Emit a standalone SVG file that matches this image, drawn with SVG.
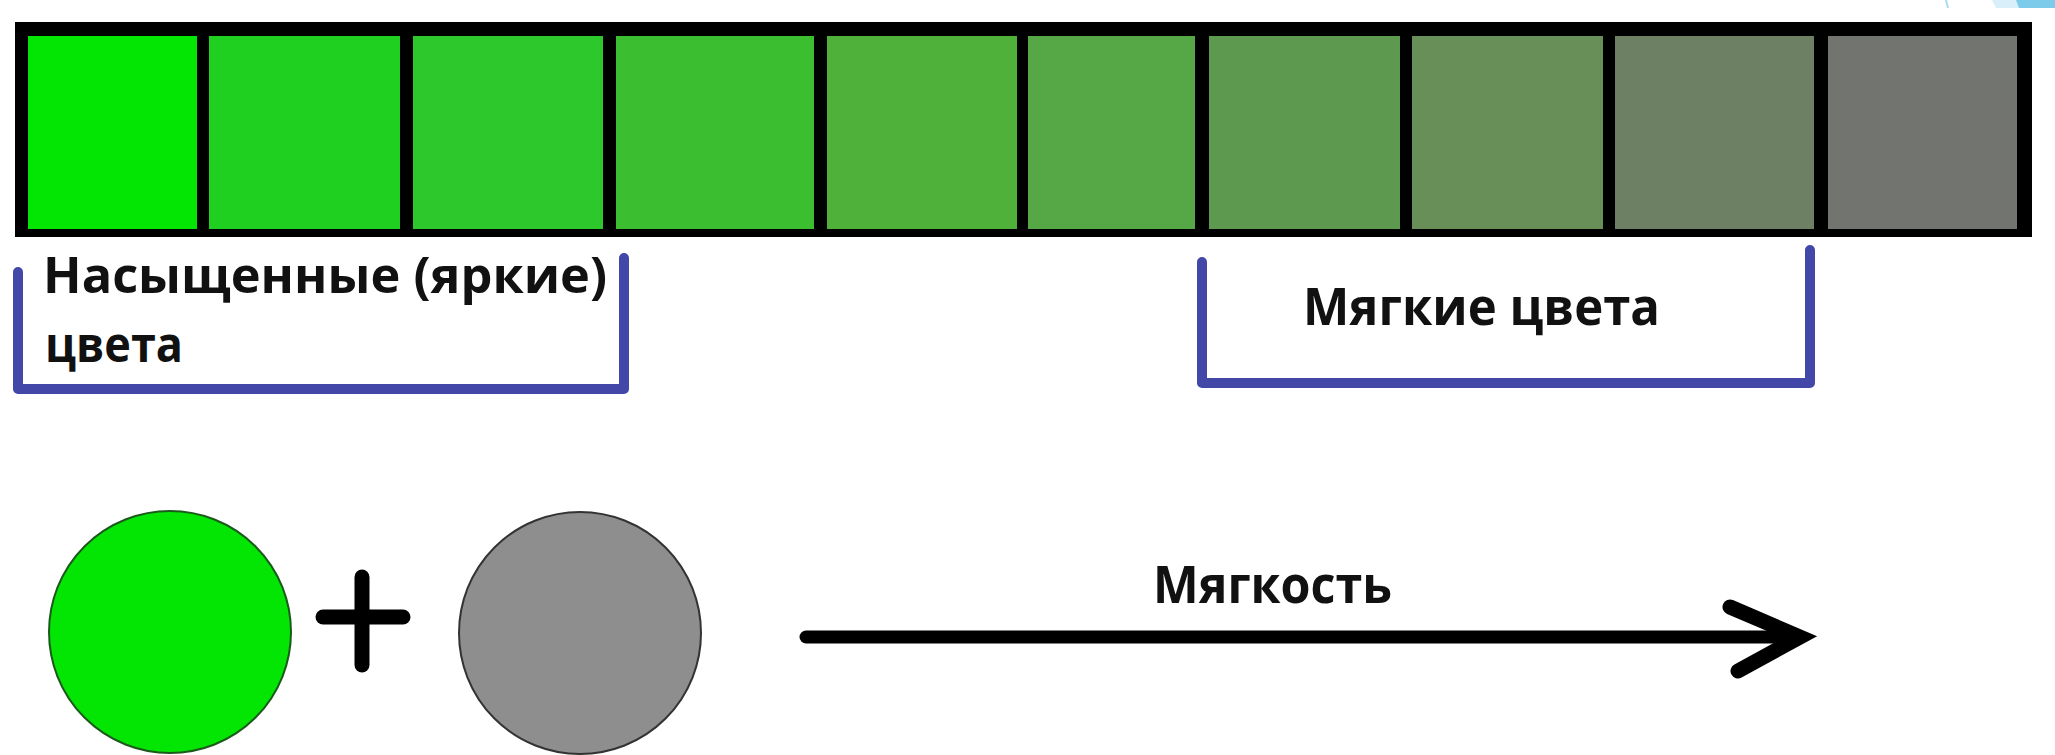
<svg xmlns="http://www.w3.org/2000/svg" width="2055" height="755" viewBox="0 0 2055 755">
  <style>
    .lbl { font-family: "Open Sans", "Liberation Sans", sans-serif; font-weight: 700; fill: #111; }
    .brk { fill: none; stroke: #4347a8; stroke-width: 10; stroke-linecap: round; stroke-linejoin: round; }
    .blk { fill: none; stroke: #000; stroke-linecap: round; }
  </style>
  <rect x="0" y="0" width="2055" height="755" fill="#ffffff"/>
  <!-- corner decoration -->
  <g id="corner-decor">
    <polygon points="1992,0 2018,0 2020,8 1996,8" fill="#d9f0fa"/>
    <polygon points="2016,0 2055,0 2055,8 2019,8" fill="#7ccbea"/>
    <line x1="1946" y1="0" x2="1948" y2="8" stroke="#a9dcf2" stroke-width="2"/>
  </g>
  <g id="scale-bar">
    <rect x="15" y="22" width="2017" height="215" fill="#000"/>
    <rect x="28" y="36" width="169" height="193" fill="#03e603"/>
    <rect x="209" y="36" width="191" height="193" fill="#20d020"/>
    <rect x="413" y="36" width="190" height="193" fill="#2dc82b"/>
    <rect x="616" y="36" width="198" height="193" fill="#3bbe30"/>
    <rect x="827" y="36" width="190" height="193" fill="#4fb13a"/>
    <rect x="1028" y="36" width="167" height="193" fill="#55a845"/>
    <rect x="1209" y="36" width="191" height="193" fill="#5e9950"/>
    <rect x="1412" y="36" width="191" height="193" fill="#678f57"/>
    <rect x="1615" y="36" width="199" height="193" fill="#6e8063"/>
    <rect x="1828" y="36" width="189" height="193" fill="#72746f"/>
  </g>
  <g id="saturated-label">
    <path class="brk" d="M18 272 V389 H624 V258"/>
    <text class="lbl" x="43" y="293" font-size="50" textLength="564" lengthAdjust="spacingAndGlyphs">Насыщенные (яркие)</text>
    <text class="lbl" x="45" y="362" font-size="50" textLength="138" lengthAdjust="spacingAndGlyphs">цвета</text>
  </g>
  <g id="soft-label">
    <path class="brk" d="M1202 262 V383 H1810 V250"/>
    <text class="lbl" x="1303" y="325" font-size="52" textLength="357" lengthAdjust="spacingAndGlyphs">Мягкие цвета</text>
  </g>
  <g id="green-circle">
    <circle cx="170" cy="632" r="121" fill="#03e603" stroke="#1c5a1c" stroke-width="2"/>
  </g>
  <g id="plus">
    <line class="blk" x1="323" y1="617" x2="403" y2="617" stroke-width="15"/>
    <line class="blk" x1="362" y1="577" x2="362" y2="665" stroke-width="15"/>
  </g>
  <g id="gray-circle">
    <circle cx="580" cy="633" r="121" fill="#8e8e8e" stroke="#333" stroke-width="2"/>
  </g>
  <g id="connectors">
    <line class="blk" x1="806" y1="637" x2="1794" y2="637" stroke-width="13"/>
    <polyline class="blk" points="1730,607 1800,637 1738,671" stroke-width="15" stroke-linejoin="miter"/>
    <text class="lbl" x="1153" y="603" font-size="52" textLength="239" lengthAdjust="spacingAndGlyphs">Мягкость</text>
  </g>
</svg>
